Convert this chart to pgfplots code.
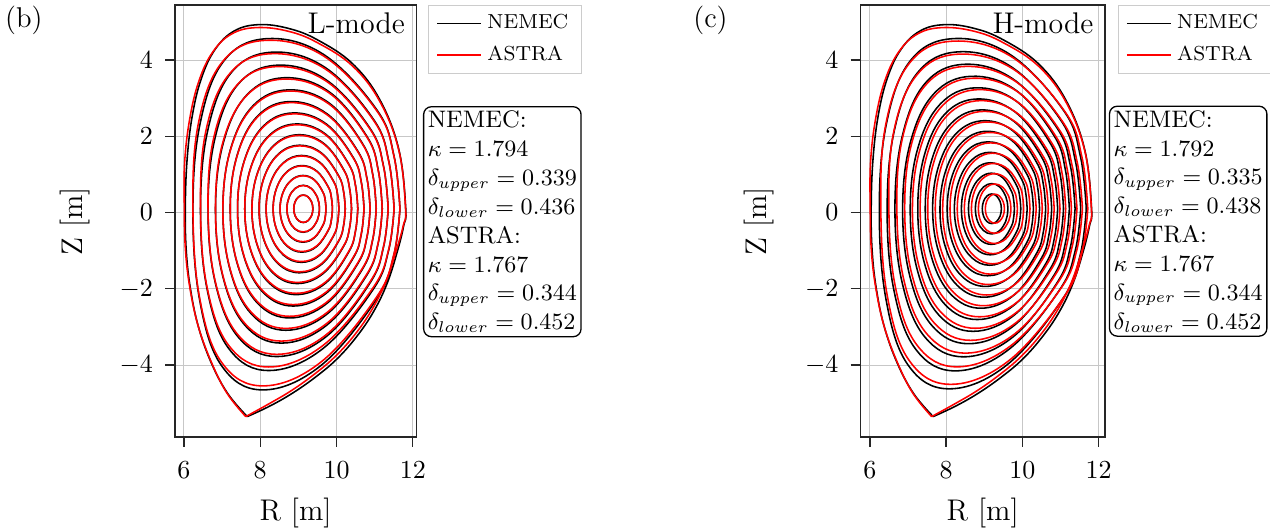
\documentclass[border=0pt]{standalone}
\usepackage{pgfplots}
\pgfplotsset{compat=1.18}

% common look of the two flux-surface panels
\pgfplotsset{
  fluxaxis/.style={
    scale only axis,
    height=166.2pt,
    ymin=-5.888, ymax=5.444,
    xtick={6,8,10,12}, ytick={-4,-2,0,2,4},
    grid=major,
    major grid style={line width=0.4pt, black!22},
    axis line style={line width=0.5pt, black!85},
    tick style={line width=0.5pt, black!85},
    tick align=outside, tick pos=left,
    major tick length=3.8pt,
    tick label style={font=\fontsize{10.4}{12}\selectfont},
    xticklabel style={yshift=-2pt},
    yticklabel style={xshift=-1.2pt},
    label style={font=\fontsize{11.5}{13}\selectfont},
    xlabel={R [m]}, ylabel={Z [m]},
    xlabel style={at={(axis description cs:0.5,-0.192)}, anchor=base},
    ylabel style={at={(axis description cs:-0.415,0.5)}, anchor=center},
    legend style={at={(1,1)}, anchor=north west, draw=black!20, line width=0.4pt,
      font=\fontsize{7.8}{9}\selectfont, inner xsep=3pt, inner ysep=1.5pt,
      row sep=1pt, cells={anchor=west}},
    legend image code/.code={\draw[#1] (0pt,0pt) -- (17pt,0pt);},
  },
  % each closed surface is listed from the outboard midplane round to it again
  fluxline/.style={line width=0.6pt, forget plot, mark=none, smooth, tension=0.65},
  nemec/.style={fluxline, black},
  astra/.style={fluxline, red},
}
\tikzset{
  boxtext/.style={draw=black, rounded corners=3pt, line width=0.5pt, anchor=north west,
    align=left, inner sep=1.6pt, font=\fontsize{9.2}{11.1}\selectfont},
}

\begin{document}
\begin{tikzpicture}
\useasboundingbox (0pt,0pt) rectangle (488.5pt,-203.5pt);

\node[anchor=north west, inner sep=0pt, font=\fontsize{11}{13}\selectfont] at (1.8pt,-2.3pt) {(b)};
\node[anchor=north west, inner sep=0pt, font=\fontsize{11}{13}\selectfont] at (266.5pt,-2.3pt) {(c)};

% ---------------- (b) L-mode ----------------
\begin{axis}[fluxaxis, at={(67.3pt,-1.92pt)}, anchor=north west,
  width=92.8pt, xmin=5.764, xmax=12.09, legend style={xshift=4.6pt}]
\addlegendimage{black, line width=0.6pt}\addlegendentry{NEMEC}
\addlegendimage{red, line width=0.6pt}\addlegendentry{ASTRA}
% NEMEC: separatrix (from the X-point round to it) and nested surfaces
\addplot[nemec] coordinates {(7.66,-5.35) (8.26,-5.07) (8.87,-4.72) (9.48,-4.29) (10.02,-3.83) (10.53,-3.25) (10.97,-2.60) (11.33,-1.85) (11.60,-1.00) (11.76,-0.35) (11.815,0.10) (11.640,1.627) (11.148,2.935) (10.425,3.900) (9.50,4.530) (8.735,4.831) (7.964,4.929) (7.319,4.764) (6.818,4.282) (6.455,3.515) (6.214,2.515) (6.079,1.350) (6.035,0.100) (6.06,-1.00) (6.17,-2.00) (6.38,-3.00) (6.72,-3.95) (7.15,-4.75) (7.66,-5.35)};
\addplot[nemec] coordinates {(11.663,0.100) (11.508,1.481) (11.070,2.674) (9.657,4.149) (8.147,4.559) (7.034,3.961) (6.422,2.329) (6.235,0.100) (6.408,-2.275) (6.984,-4.013) (8.070,-4.650) (9.588,-4.013) (11.045,-2.275) (11.501,-1.129) (11.663,0.100)};
\addplot[nemec] coordinates {(11.510,0.100) (11.371,1.345) (10.979,2.430) (9.697,3.808) (8.295,4.205) (7.228,3.655) (6.623,2.153) (6.434,0.100) (6.609,-2.021) (7.181,-3.574) (8.222,-4.142) (9.634,-3.574) (10.956,-2.021) (11.365,-0.998) (11.510,0.100)};
\addplot[nemec] coordinates {(11.355,0.100) (11.232,1.219) (10.883,2.203) (9.726,3.482) (8.432,3.864) (7.415,3.360) (6.821,1.982) (6.631,0.100) (6.821,-1.837) (7.415,-3.255) (8.432,-3.775) (9.726,-3.255) (10.883,-1.837) (11.232,-0.903) (11.355,0.100)};
\addplot[nemec] coordinates {(11.199,0.100) (11.096,1.103) (10.800,1.992) (9.799,3.172) (8.622,3.536) (7.639,3.075) (7.029,1.818) (6.827,0.100) (7.016,-1.662) (7.596,-2.951) (8.557,-3.423) (9.745,-2.951) (10.781,-1.662) (11.091,-0.812) (11.199,0.100)};
\addplot[nemec] coordinates {(11.041,0.100) (10.951,0.994) (10.692,1.793) (9.802,2.875) (8.731,3.218) (7.809,2.800) (7.220,1.659) (7.021,0.100) (7.207,-1.493) (7.768,-2.659) (8.671,-3.086) (9.754,-2.659) (10.674,-1.493) (10.946,-0.725) (11.041,0.100)};
\addplot[nemec] coordinates {(10.881,0.100) (10.799,0.892) (10.562,1.605) (9.751,2.590) (8.773,2.911) (7.932,2.534) (7.395,1.505) (7.213,0.100) (7.395,-1.331) (7.932,-2.379) (8.773,-2.763) (9.751,-2.379) (10.562,-1.331) (10.799,-0.641) (10.881,0.100)};
\addplot[nemec] coordinates {(10.721,0.100) (10.650,0.798) (10.447,1.430) (9.739,2.318) (8.865,2.613) (8.090,2.276) (7.580,1.357) (7.405,0.100) (7.580,-1.176) (8.090,-2.109) (8.865,-2.451) (9.739,-2.109) (10.447,-1.176) (10.650,-0.560) (10.721,0.100)};
\addplot[nemec] coordinates {(10.558,0.100) (10.498,0.710) (10.325,1.264) (9.715,2.056) (8.943,2.324) (8.237,2.026) (7.761,1.212) (7.594,0.100) (7.761,-1.026) (8.237,-1.849) (8.943,-2.151) (9.715,-1.849) (10.325,-1.026) (10.498,-0.483) (10.558,0.100)};
\addplot[nemec] coordinates {(10.394,0.100) (10.344,0.626) (10.199,1.107) (9.681,1.802) (9.010,2.042) (8.377,1.782) (7.938,1.071) (7.782,0.100) (7.929,-0.880) (8.349,-1.598) (8.971,-1.861) (9.651,-1.598) (10.189,-0.880) (10.341,-0.407) (10.394,0.100)};
\addplot[nemec] coordinates {(10.229,0.100) (10.186,0.546) (10.060,0.957) (9.612,1.557) (9.031,1.767) (8.484,1.544) (8.104,0.934) (7.969,0.100) (8.104,-0.740) (8.484,-1.354) (9.031,-1.579) (9.612,-1.354) (10.060,-0.740) (10.186,-0.335) (10.229,0.100)};
\addplot[nemec] coordinates {(10.062,0.100) (10.028,0.470) (9.927,0.813) (9.563,1.318) (9.079,1.498) (8.610,1.310) (8.275,0.799) (8.154,0.100) (8.275,-0.603) (8.610,-1.117) (9.079,-1.305) (9.563,-1.117) (9.927,-0.603) (10.028,-0.264) (10.062,0.100)};
\addplot[nemec] coordinates {(9.893,0.100) (9.865,0.398) (9.783,0.674) (9.486,1.086) (9.092,1.233) (8.709,1.081) (8.436,0.667) (8.337,0.100) (8.436,-0.469) (8.709,-0.885) (9.092,-1.037) (9.486,-0.885) (9.783,-0.469) (9.865,-0.194) (9.893,0.100)};
\addplot[nemec] coordinates {(9.723,0.100) (9.703,0.328) (9.642,0.540) (9.422,0.858) (9.121,0.973) (8.820,0.856) (8.600,0.537) (8.519,0.100) (8.600,-0.337) (8.820,-0.658) (9.121,-0.775) (9.422,-0.658) (9.642,-0.337) (9.703,-0.126) (9.723,0.100)};
\addplot[nemec] coordinates {(9.552,0.100) (9.538,0.259) (9.495,0.408) (9.339,0.633) (9.126,0.716) (8.913,0.633) (8.757,0.408) (8.700,0.100) (8.757,-0.208) (8.913,-0.434) (9.126,-0.516) (9.339,-0.434) (9.495,-0.208) (9.538,-0.060) (9.552,0.100)};
\addplot[nemec] coordinates {(9.379,0.100) (9.371,0.193) (9.346,0.280) (9.254,0.412) (9.129,0.460) (9.004,0.412) (8.912,0.280) (8.879,0.100) (8.912,-0.080) (9.004,-0.212) (9.129,-0.261) (9.254,-0.212) (9.346,-0.080) (9.371,0.007) (9.379,0.100)};
% ASTRA
\addplot[astra] coordinates {(7.62,-5.35) (8.22,-5.02) (8.83,-4.66) (9.43,-4.23) (9.97,-3.77) (10.48,-3.20) (10.92,-2.56) (11.29,-1.82) (11.57,-0.98) (11.75,-0.34) (11.81,0.10) (11.640,1.603) (11.148,2.890) (10.425,3.839) (9.50,4.455) (8.735,4.755) (7.914,4.852) (7.259,4.689) (6.758,4.215) (6.395,3.460) (6.154,2.476) (6.019,1.330) (6.010,0.100) (6.04,-1.00) (6.16,-2.00) (6.38,-3.00) (6.73,-3.95) (7.13,-4.74) (7.62,-5.35)};
\addplot[astra] coordinates {(11.663,0.100) (11.508,1.467) (11.070,2.648) (9.657,4.109) (8.097,4.514) (6.984,3.923) (6.372,2.307) (6.235,0.100) (6.408,-2.223) (6.984,-3.923) (8.070,-4.545) (9.588,-3.923) (11.045,-2.223) (11.501,-1.102) (11.663,0.100)};
\addplot[astra] coordinates {(11.510,0.100) (11.371,1.332) (10.979,2.407) (9.697,3.771) (8.245,4.164) (7.178,3.619) (6.573,2.132) (6.434,0.100) (6.609,-1.974) (7.181,-3.493) (8.222,-4.049) (9.634,-3.493) (10.956,-1.974) (11.365,-0.974) (11.510,0.100)};
\addplot[astra] coordinates {(11.355,0.100) (11.232,1.208) (10.883,2.182) (9.726,3.449) (8.392,3.826) (7.375,3.327) (6.781,1.963) (6.631,0.100) (6.821,-1.808) (7.415,-3.205) (8.432,-3.717) (9.726,-3.205) (10.883,-1.808) (11.232,-0.888) (11.355,0.100)};
\addplot[astra] coordinates {(11.199,0.100) (11.096,1.093) (10.800,1.973) (9.799,3.142) (8.602,3.501) (7.619,3.045) (7.009,1.801) (6.827,0.100) (7.016,-1.635) (7.596,-2.905) (8.557,-3.370) (9.745,-2.905) (10.781,-1.635) (11.091,-0.798) (11.199,0.100)};
\addplot[astra] coordinates {(11.041,0.100) (10.951,0.985) (10.692,1.776) (9.802,2.847) (8.731,3.187) (7.809,2.773) (7.220,1.644) (7.021,0.100) (7.207,-1.469) (7.768,-2.618) (8.671,-3.038) (9.754,-2.618) (10.674,-1.469) (10.946,-0.712) (11.041,0.100)};
\addplot[astra] coordinates {(10.881,0.100) (10.799,0.885) (10.562,1.590) (9.751,2.566) (8.773,2.883) (7.932,2.510) (7.395,1.491) (7.213,0.100) (7.395,-1.310) (7.932,-2.342) (8.773,-2.720) (9.751,-2.342) (10.562,-1.310) (10.799,-0.630) (10.881,0.100)};
\addplot[astra] coordinates {(10.721,0.100) (10.650,0.791) (10.447,1.417) (9.739,2.296) (8.865,2.588) (8.090,2.255) (7.580,1.344) (7.405,0.100) (7.580,-1.157) (8.090,-2.076) (8.865,-2.413) (9.739,-2.076) (10.447,-1.157) (10.650,-0.550) (10.721,0.100)};
\addplot[astra] coordinates {(10.558,0.100) (10.498,0.703) (10.325,1.253) (9.715,2.036) (8.943,2.302) (8.237,2.007) (7.761,1.201) (7.594,0.100) (7.761,-1.009) (8.237,-1.820) (8.943,-2.117) (9.715,-1.820) (10.325,-1.009) (10.498,-0.474) (10.558,0.100)};
\addplot[astra] coordinates {(10.394,0.100) (10.344,0.620) (10.199,1.097) (9.681,1.785) (9.010,2.023) (8.377,1.765) (7.938,1.061) (7.782,0.100) (7.929,-0.866) (8.349,-1.573) (8.971,-1.831) (9.651,-1.573) (10.189,-0.866) (10.341,-0.400) (10.394,0.100)};
\addplot[astra] coordinates {(10.229,0.100) (10.186,0.542) (10.060,0.948) (9.612,1.542) (9.031,1.750) (8.484,1.529) (8.104,0.925) (7.969,0.100) (8.104,-0.727) (8.484,-1.332) (9.031,-1.554) (9.612,-1.332) (10.060,-0.727) (10.186,-0.328) (10.229,0.100)};
\addplot[astra] coordinates {(10.062,0.100) (10.028,0.467) (9.927,0.805) (9.563,1.306) (9.079,1.484) (8.610,1.298) (8.275,0.792) (8.154,0.100) (8.275,-0.592) (8.610,-1.098) (9.079,-1.284) (9.563,-1.098) (9.927,-0.592) (10.028,-0.258) (10.062,0.100)};
\addplot[astra] coordinates {(9.893,0.100) (9.865,0.395) (9.783,0.668) (9.486,1.076) (9.092,1.222) (8.709,1.072) (8.436,0.661) (8.337,0.100) (8.436,-0.460) (8.709,-0.870) (9.092,-1.020) (9.486,-0.870) (9.783,-0.460) (9.865,-0.190) (9.893,0.100)};
\addplot[astra] coordinates {(9.723,0.100) (9.703,0.326) (9.642,0.535) (9.422,0.850) (9.121,0.964) (8.820,0.848) (8.600,0.532) (8.519,0.100) (8.600,-0.331) (8.820,-0.646) (9.121,-0.762) (9.422,-0.646) (9.642,-0.331) (9.703,-0.123) (9.723,0.100)};
\addplot[astra] coordinates {(9.552,0.100) (9.538,0.258) (9.495,0.405) (9.339,0.628) (9.126,0.709) (8.913,0.628) (8.757,0.405) (8.700,0.100) (8.757,-0.204) (8.913,-0.426) (9.126,-0.507) (9.339,-0.426) (9.495,-0.204) (9.538,-0.057) (9.552,0.100)};
\addplot[astra] coordinates {(9.379,0.100) (9.371,0.192) (9.346,0.278) (9.254,0.409) (9.129,0.457) (9.004,0.409) (8.912,0.278) (8.879,0.100) (8.912,-0.078) (9.004,-0.208) (9.129,-0.255) (9.254,-0.208) (9.346,-0.078) (9.371,0.008) (9.379,0.100)};
\node[anchor=north east, inner sep=0pt, font=\fontsize{11.5}{13}\selectfont] at (rel axis cs:0.955,0.984) {L-mode};
\end{axis}
\node[boxtext] at (162.7pt,-40.8pt) {NEMEC:\\ $\kappa=1.794$\\ $\delta_{upper}=0.339$\\ $\delta_{lower}=0.436$\\ ASTRA:\\ $\kappa=1.767$\\ $\delta_{upper}=0.344$\\ $\delta_{lower}=0.452$};

% ---------------- (c) H-mode ----------------
\begin{axis}[fluxaxis, at={(331.0pt,-1.92pt)}, anchor=north west,
  width=93.97pt, xmin=5.756, xmax=12.163, legend style={xshift=5pt}]
\addlegendimage{black, line width=0.6pt}\addlegendentry{NEMEC}
\addlegendimage{red, line width=0.6pt}\addlegendentry{ASTRA}
% NEMEC
\addplot[nemec] coordinates {(7.66,-5.35) (8.26,-5.07) (8.87,-4.72) (9.48,-4.29) (10.02,-3.83) (10.53,-3.25) (10.97,-2.60) (11.33,-1.85) (11.60,-1.00) (11.76,-0.35) (11.815,0.10) (11.640,1.627) (11.148,2.935) (10.425,3.900) (9.50,4.530) (8.735,4.831) (7.964,4.929) (7.319,4.764) (6.818,4.282) (6.455,3.515) (6.214,2.515) (6.079,1.350) (6.035,0.100) (6.06,-1.00) (6.17,-2.00) (6.38,-3.00) (6.72,-3.95) (7.15,-4.75) (7.66,-5.35)};
\addplot[nemec] coordinates {(11.676,0.100) (11.521,1.481) (11.083,2.675) (9.670,4.151) (8.160,4.560) (7.047,3.962) (6.435,2.330) (6.248,0.100) (6.421,-2.261) (6.997,-3.990) (8.083,-4.622) (9.601,-3.990) (11.058,-2.261) (11.514,-1.122) (11.676,0.100)};
\addplot[nemec] coordinates {(11.530,0.100) (11.391,1.348) (10.999,2.436) (9.717,3.817) (8.315,4.215) (7.248,3.664) (6.643,2.158) (6.454,0.100) (6.629,-2.026) (7.201,-3.581) (8.242,-4.151) (9.654,-3.581) (10.976,-2.026) (11.385,-1.000) (11.530,0.100)};
\addplot[nemec] coordinates {(11.382,0.100) (11.259,1.226) (10.910,2.217) (9.753,3.504) (8.459,3.888) (7.442,3.380) (6.848,1.994) (6.658,0.100) (6.848,-1.841) (7.442,-3.262) (8.459,-3.782) (9.753,-3.262) (10.910,-1.841) (11.259,-0.905) (11.382,0.100)};
\addplot[nemec] coordinates {(11.232,0.100) (11.129,1.114) (10.833,2.013) (9.832,3.207) (8.655,3.574) (7.672,3.109) (7.062,1.837) (6.860,0.100) (7.049,-1.669) (7.629,-2.964) (8.590,-3.439) (9.779,-2.964) (10.814,-1.669) (11.124,-0.816) (11.232,0.100)};
\addplot[nemec] coordinates {(11.079,0.100) (10.989,1.009) (10.730,1.822) (9.840,2.923) (8.769,3.272) (7.847,2.847) (7.258,1.686) (7.059,0.100) (7.245,-1.507) (7.806,-2.684) (8.709,-3.114) (9.792,-2.684) (10.712,-1.507) (10.984,-0.732) (11.079,0.100)};
\addplot[nemec] coordinates {(10.925,0.100) (10.843,0.911) (10.606,1.641) (9.795,2.650) (8.817,2.979) (7.976,2.593) (7.439,1.539) (7.257,0.100) (7.439,-1.353) (7.976,-2.416) (8.817,-2.805) (9.795,-2.416) (10.606,-1.353) (10.843,-0.652) (10.925,0.100)};
\addplot[nemec] coordinates {(10.769,0.100) (10.698,0.820) (10.495,1.472) (9.787,2.387) (8.913,2.692) (8.138,2.344) (7.628,1.396) (7.453,0.100) (7.628,-1.204) (8.138,-2.158) (8.913,-2.508) (9.787,-2.158) (10.495,-1.204) (10.698,-0.575) (10.769,0.100)};
\addplot[nemec] coordinates {(10.611,0.100) (10.551,0.733) (10.378,1.309) (9.768,2.131) (8.996,2.409) (8.290,2.100) (7.814,1.255) (7.647,0.100) (7.814,-1.059) (8.290,-1.908) (8.996,-2.219) (9.768,-1.908) (10.378,-1.059) (10.551,-0.500) (10.611,0.100)};
\addplot[nemec] coordinates {(10.451,0.100) (10.401,0.650) (10.256,1.153) (9.738,1.880) (9.067,2.131) (8.434,1.859) (7.995,1.115) (7.839,0.100) (7.986,-0.918) (8.406,-1.663) (9.028,-1.936) (9.708,-1.663) (10.246,-0.918) (10.398,-0.427) (10.451,0.100)};
\addplot[nemec] coordinates {(10.289,0.100) (10.246,0.570) (10.120,1.002) (9.672,1.633) (9.091,1.855) (8.544,1.620) (8.164,0.977) (8.029,0.100) (8.164,-0.779) (8.544,-1.422) (9.091,-1.657) (9.672,-1.422) (10.120,-0.779) (10.246,-0.355) (10.289,0.100)};
\addplot[nemec] coordinates {(10.125,0.100) (10.091,0.492) (9.990,0.855) (9.626,1.390) (9.142,1.580) (8.673,1.382) (8.338,0.840) (8.217,0.100) (8.338,-0.641) (8.673,-1.183) (9.142,-1.381) (9.626,-1.183) (9.990,-0.641) (10.091,-0.283) (10.125,0.100)};
\addplot[nemec] coordinates {(9.958,0.100) (9.930,0.417) (9.848,0.711) (9.551,1.149) (9.157,1.306) (8.774,1.145) (8.501,0.703) (8.402,0.100) (8.501,-0.503) (8.774,-0.945) (9.157,-1.107) (9.551,-0.945) (9.848,-0.503) (9.930,-0.212) (9.958,0.100)};
\addplot[nemec] coordinates {(9.790,0.100) (9.770,0.344) (9.709,0.570) (9.489,0.910) (9.188,1.033) (8.887,0.908) (8.667,0.567) (8.586,0.100) (8.667,-0.367) (8.887,-0.708) (9.188,-0.833) (9.489,-0.708) (9.709,-0.367) (9.770,-0.142) (9.790,0.100)};
\addplot[nemec] coordinates {(9.620,0.100) (9.606,0.271) (9.563,0.430) (9.407,0.672) (9.194,0.760) (8.981,0.672) (8.825,0.430) (8.768,0.100) (8.825,-0.230) (8.981,-0.472) (9.194,-0.560) (9.407,-0.472) (9.563,-0.230) (9.606,-0.071) (9.620,0.100)};
\addplot[nemec] coordinates {(9.448,0.100) (9.440,0.200) (9.415,0.294) (9.323,0.436) (9.198,0.488) (9.073,0.436) (8.982,0.294) (8.948,0.100) (8.982,-0.094) (9.073,-0.236) (9.198,-0.288) (9.323,-0.236) (9.415,-0.094) (9.440,0.000) (9.448,0.100)};
% ASTRA
\addplot[astra] coordinates {(7.62,-5.35) (8.22,-5.02) (8.83,-4.66) (9.43,-4.23) (9.97,-3.77) (10.48,-3.20) (10.92,-2.56) (11.29,-1.82) (11.57,-0.98) (11.75,-0.34) (11.81,0.10) (11.640,1.603) (11.148,2.890) (10.425,3.839) (9.50,4.455) (8.735,4.755) (7.914,4.852) (7.259,4.689) (6.758,4.215) (6.395,3.460) (6.154,2.476) (6.019,1.330) (6.010,0.100) (6.04,-1.00) (6.16,-2.00) (6.38,-3.00) (6.73,-3.95) (7.13,-4.74) (7.62,-5.35)};
\addplot[astra] coordinates {(11.716,0.100) (11.561,1.461) (11.123,2.636) (9.710,4.090) (8.140,4.493) (7.027,3.904) (6.415,2.297) (6.288,0.100) (6.461,-2.202) (7.037,-3.887) (8.123,-4.504) (9.641,-3.887) (11.098,-2.202) (11.554,-1.092) (11.716,0.100)};
\addplot[astra] coordinates {(11.575,0.100) (11.436,1.329) (11.044,2.401) (9.762,3.761) (8.300,4.153) (7.233,3.610) (6.628,2.127) (6.499,0.100) (6.674,-1.972) (7.246,-3.489) (8.287,-4.045) (9.699,-3.489) (11.021,-1.972) (11.430,-0.973) (11.575,0.100)};
\addplot[astra] coordinates {(11.432,0.100) (11.309,1.209) (10.960,2.185) (9.803,3.452) (8.469,3.831) (7.452,3.331) (6.858,1.965) (6.708,0.100) (6.898,-1.793) (7.492,-3.178) (8.509,-3.685) (9.803,-3.178) (10.960,-1.793) (11.309,-0.880) (11.432,0.100)};
\addplot[astra] coordinates {(11.286,0.100) (11.183,1.099) (10.887,1.984) (9.886,3.160) (8.689,3.522) (7.706,3.064) (7.096,1.811) (6.914,0.100) (7.103,-1.625) (7.683,-2.888) (8.644,-3.350) (9.833,-2.888) (10.868,-1.625) (11.178,-0.793) (11.286,0.100)};
\addplot[astra] coordinates {(11.137,0.100) (11.047,0.996) (10.788,1.796) (9.898,2.881) (8.827,3.224) (7.905,2.806) (7.316,1.662) (7.117,0.100) (7.303,-1.467) (7.864,-2.614) (8.767,-3.034) (9.850,-2.614) (10.770,-1.467) (11.042,-0.711) (11.137,0.100)};
\addplot[astra] coordinates {(10.987,0.100) (10.905,0.899) (10.668,1.618) (9.857,2.612) (8.879,2.935) (8.038,2.555) (7.501,1.518) (7.319,0.100) (7.501,-1.316) (8.038,-2.353) (8.879,-2.733) (9.857,-2.353) (10.668,-1.316) (10.905,-0.633) (10.987,0.100)};
\addplot[astra] coordinates {(10.834,0.100) (10.763,0.809) (10.560,1.451) (9.852,2.353) (8.978,2.653) (8.203,2.311) (7.693,1.376) (7.518,0.100) (7.693,-1.171) (8.203,-2.102) (8.978,-2.442) (9.852,-2.102) (10.560,-1.171) (10.763,-0.558) (10.834,0.100)};
\addplot[astra] coordinates {(10.679,0.100) (10.619,0.724) (10.446,1.291) (9.836,2.100) (9.064,2.375) (8.358,2.070) (7.882,1.237) (7.715,0.100) (7.882,-1.030) (8.358,-1.858) (9.064,-2.161) (9.836,-1.858) (10.446,-1.030) (10.619,-0.485) (10.679,0.100)};
\addplot[astra] coordinates {(10.522,0.100) (10.472,0.641) (10.327,1.137) (9.809,1.853) (9.138,2.100) (8.505,1.832) (8.066,1.100) (7.910,0.100) (8.057,-0.893) (8.477,-1.619) (9.099,-1.885) (9.779,-1.619) (10.317,-0.893) (10.469,-0.414) (10.522,0.100)};
\addplot[astra] coordinates {(10.362,0.100) (10.319,0.563) (10.193,0.988) (9.745,1.610) (9.164,1.828) (8.617,1.597) (8.237,0.964) (8.102,0.100) (8.237,-0.757) (8.617,-1.384) (9.164,-1.613) (9.745,-1.384) (10.193,-0.757) (10.319,-0.343) (10.362,0.100)};
\addplot[astra] coordinates {(10.200,0.100) (10.166,0.486) (10.065,0.843) (9.701,1.371) (9.217,1.558) (8.748,1.363) (8.413,0.829) (8.292,0.100) (8.413,-0.622) (8.748,-1.151) (9.217,-1.344) (9.701,-1.151) (10.065,-0.622) (10.166,-0.274) (10.200,0.100)};
\addplot[astra] coordinates {(10.035,0.100) (10.007,0.413) (9.925,0.702) (9.628,1.134) (9.234,1.288) (8.851,1.129) (8.578,0.694) (8.479,0.100) (8.578,-0.488) (8.851,-0.919) (9.234,-1.077) (9.628,-0.919) (9.925,-0.488) (10.007,-0.205) (10.035,0.100)};
\addplot[astra] coordinates {(9.868,0.100) (9.848,0.340) (9.787,0.563) (9.567,0.898) (9.266,1.019) (8.965,0.896) (8.745,0.560) (8.664,0.100) (8.745,-0.355) (8.965,-0.688) (9.266,-0.810) (9.567,-0.688) (9.787,-0.355) (9.848,-0.136) (9.868,0.100)};
\addplot[astra] coordinates {(9.699,0.100) (9.685,0.268) (9.642,0.425) (9.486,0.663) (9.273,0.750) (9.060,0.663) (8.904,0.425) (8.847,0.100) (8.904,-0.222) (9.060,-0.458) (9.273,-0.544) (9.486,-0.458) (9.642,-0.222) (9.685,-0.067) (9.699,0.100)};
\addplot[astra] coordinates {(9.528,0.100) (9.520,0.199) (9.495,0.291) (9.403,0.431) (9.278,0.482) (9.153,0.431) (9.062,0.291) (9.028,0.100) (9.062,-0.089) (9.153,-0.227) (9.278,-0.278) (9.403,-0.227) (9.495,-0.089) (9.520,0.002) (9.528,0.100)};
\node[anchor=north east, inner sep=0pt, font=\fontsize{11.5}{13}\selectfont] at (rel axis cs:0.955,0.984) {H-mode};
\end{axis}
\node[boxtext] at (426.5pt,-40.6pt) {NEMEC:\\ $\kappa=1.792$\\ $\delta_{upper}=0.335$\\ $\delta_{lower}=0.438$\\ ASTRA:\\ $\kappa=1.767$\\ $\delta_{upper}=0.344$\\ $\delta_{lower}=0.452$};
\end{tikzpicture}
\end{document}
